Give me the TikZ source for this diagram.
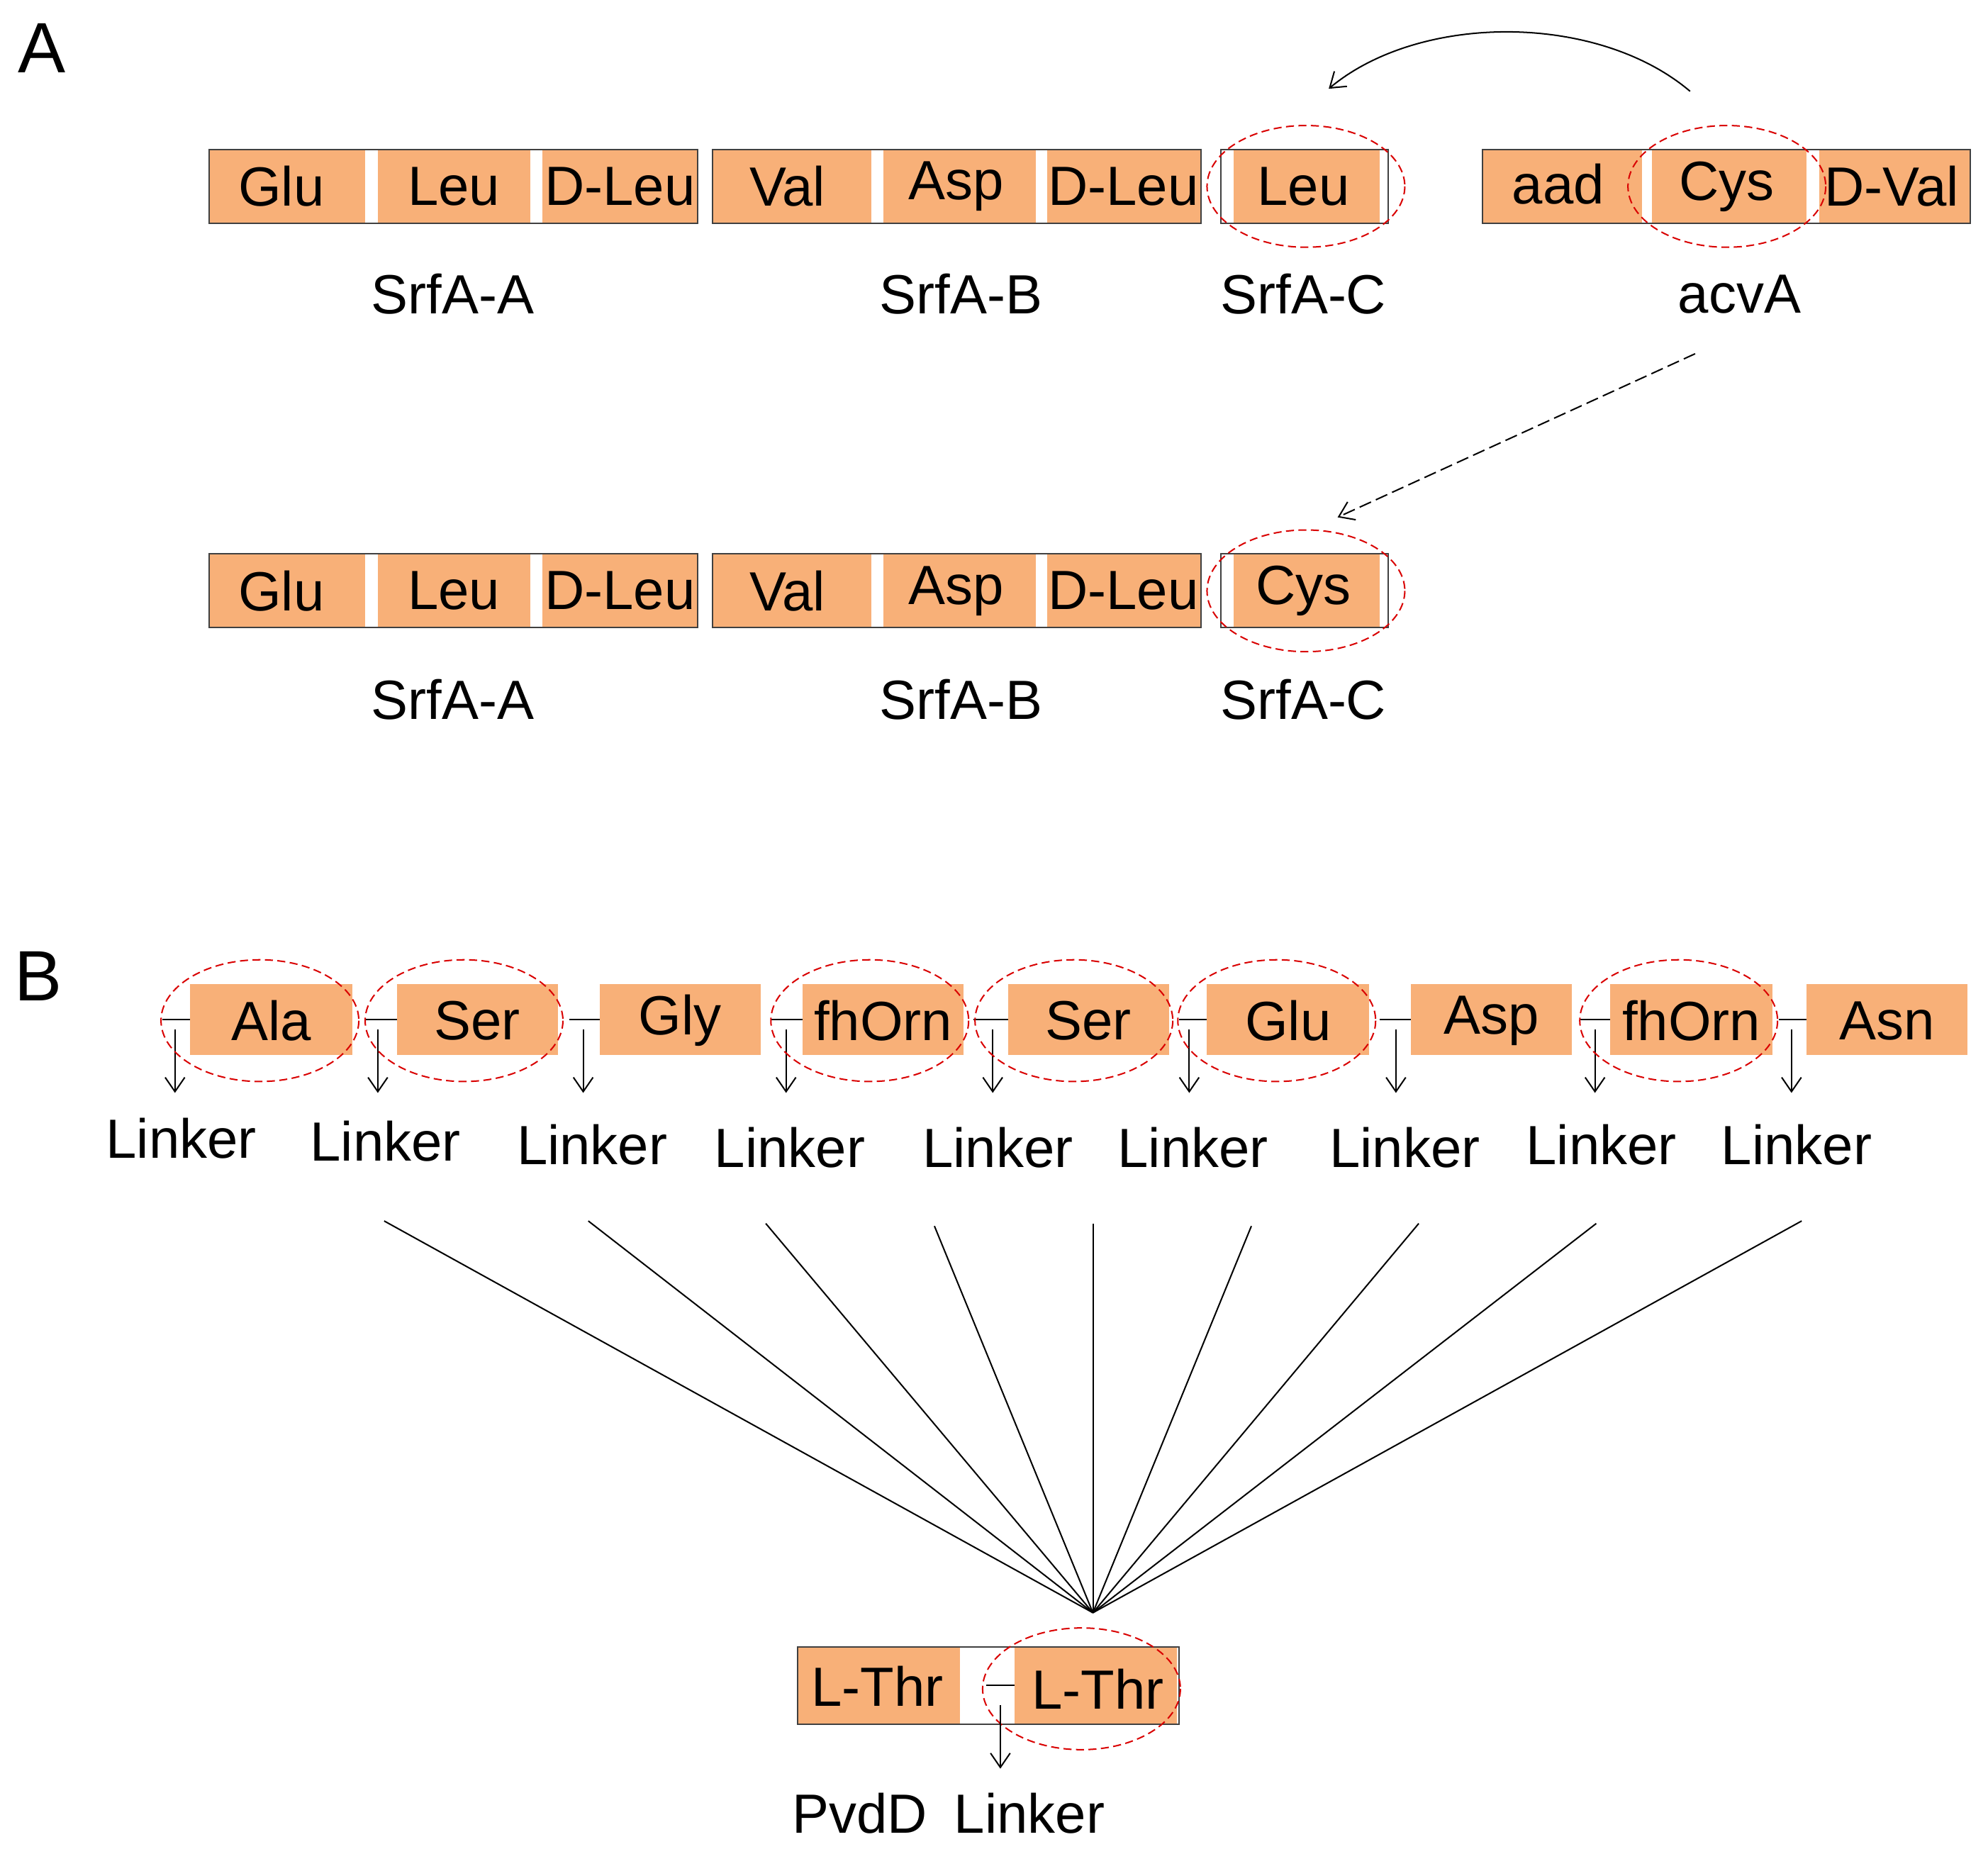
\documentclass[tikz,border=0pt]{standalone}
\usepackage{fontspec}
\setmainfont{Liberation Sans}
\usetikzlibrary{arrows.meta}
\definecolor{seg}{RGB}{248,176,120}
\begin{document}
\begin{tikzpicture}[x=0.05cm,y=-0.05cm,
  txt/.style={font=\fontsize{62}{70}\selectfont,inner sep=0pt},
  segbox/.style={fill=seg,draw=none},
  outer/.style={draw=black!75,line width=1.6pt},
  ring/.style={draw=red!85!black,dashed,line width=1.6pt,dash pattern=on 9pt off 5pt},
  arr/.style={-{Straight Barb[length=16pt,width=22pt]},line width=1.6pt},
  ln/.style={line width=1.6pt}]
\useasboundingbox (0,0) rectangle (1568,1462);
\node[txt,font=\fontsize{80}{90}\selectfont] (labA) at (33,38) {A};
\node[txt,font=\fontsize{80}{90}\selectfont] (labB) at (30,770) {B};
% Part A rows
\foreach \r/\ya/\yb/\ym/\yl/\cn in {1/118/176/147/232/Leu,2/437/495/466/552/Cys}{
  \fill[segbox] (165,\ya) rectangle (288,\yb);
  \fill[segbox] (298,\ya) rectangle (418,\yb);
  \fill[segbox] (428,\ya) rectangle (550,\yb);
  \draw[outer] (165,\ya) rectangle (550,\yb);
  \node[txt] (glu\r) at (222,\ym) {Glu};
  \node[txt] (leu\r) at (358,\ym) {Leu};
  \node[txt] (dleu\r) at (489,\ym) {D-Leu};
  \fill[segbox] (562,\ya) rectangle (687,\yb);
  \fill[segbox] (697,\ya) rectangle (817,\yb);
  \fill[segbox] (826,\ya) rectangle (947,\yb);
  \draw[outer] (562,\ya) rectangle (947,\yb);
  \node[txt] (val\r) at (621,\ym) {Val};
  \node[txt] (asp\r) at (754,\ym) {Asp};
  \node[txt] (dleub\r) at (886,\ym) {D-Leu};
  \fill[segbox] (973,\ya) rectangle (1088,\yb);
  \draw[outer] (963,\ya) rectangle (1095,\yb);
  \node[txt] (c\r) at (1028,\ym) {\cn};
  \draw[ring] (1030,\ym) ellipse (78 and 48);
  \node[txt] (sa\r) at (357,\yl) {SrfA-A};
  \node[txt] (sb\r) at (758,\yl) {SrfA-B};
  \node[txt] (sc\r) at (1028,\yl) {SrfA-C};
}
% acvA
\fill[segbox] (1169,118) rectangle (1295,176);
\fill[segbox] (1303,118) rectangle (1425,176);
\fill[segbox] (1435,118) rectangle (1554,176);
\draw[outer] (1169,118) rectangle (1554,176);
\node[txt] (aad) at (1229,145) {aad};
\node[txt] (cys) at (1362,147) {Cys};
\node[txt] (dval) at (1492,147) {D-Val};
\draw[ring] (1362,147) ellipse (78 and 48);
\node[txt] (acva) at (1372,232) {acvA};
\coordinate (s1) at (1333,72);
\coordinate (e1) at (1048,70);
\draw[arr] (s1) .. controls (1260,10) and (1120,10) .. (e1);
\coordinate (s2) at (1337,279);
\coordinate (e2) at (1055,408);
\draw[arr,dash pattern=on 14pt off 6pt] (s2) -- (e2);
% Part B
\foreach \i/\la/\lb/\bx/\ax/\name/\lx/\ly/\ring in {
 1/128/150/278/138/Ala/143/898/1,
 2/288/313/440/298/Ser/304/900/1,
 3/449/473/600/460/Gly/467/903/0,
 4/608/633/760/620/fhOrn/623/905/1,
 5/768/795/922/783/Ser/787/905/1,
 6/930/952/1080/938/Glu/941/905/1,
 7/1088/1113/1240/1101/Asp/1108/905/0,
 8/1246/1270/1398/1258/fhOrn/1263/903/1,
 9/1403/1425/1552/1413/Asn/1417/903/0}{
  \fill[segbox] (\lb,776) rectangle (\bx,832);
  \draw[ln] (\la,804) -- (\lb,804);
  \node[txt] (m\i) at ({(\lb+\bx)/2},805) {\name};
  \coordinate (at\i) at (\ax,812);
  \coordinate (ab\i) at (\ax,862);
  \draw[arr,-{Straight Barb[length=16pt,width=22pt]}] (at\i) -- (ab\i);
  \node[txt] (lk\i) at (\lx,\ly) {Linker};
  \ifnum\ring=1 \draw[ring] ({(\la+\bx)/2+2},805) ellipse (78 and 48); \fi
}
\coordinate (hub) at (862,1272);
\foreach \i/\x/\y in {1/303/963,2/464/963,3/604/965,4/737/967,5/862/965,6/987/967,7/1119/965,8/1259/965,9/1421/963}{
  \coordinate (f\i) at (\x,\y);
  \draw[ln] (f\i) -- (hub);
}
% PvdD
\fill[segbox] (629,1299) rectangle (757,1360);
\fill[segbox] (800,1299) rectangle (928,1360);
\draw[outer] (629,1299) rectangle (930,1360);
\draw[ln] (778,1329) -- (800,1329);
\node[txt] (t1) at (692,1330) {L-Thr};
\node[txt] (t2) at (866,1332) {L-Thr};
\draw[ring] (853,1332) ellipse (78 and 48);
\coordinate (pa) at (789,1345);
\coordinate (pb) at (789,1395);
\draw[arr] (pa) -- (pb);
\node[txt] (pvdd) at (678,1430) {PvdD};
\node[txt] (plk) at (812,1430) {Linker};
\end{tikzpicture}
\end{document}
